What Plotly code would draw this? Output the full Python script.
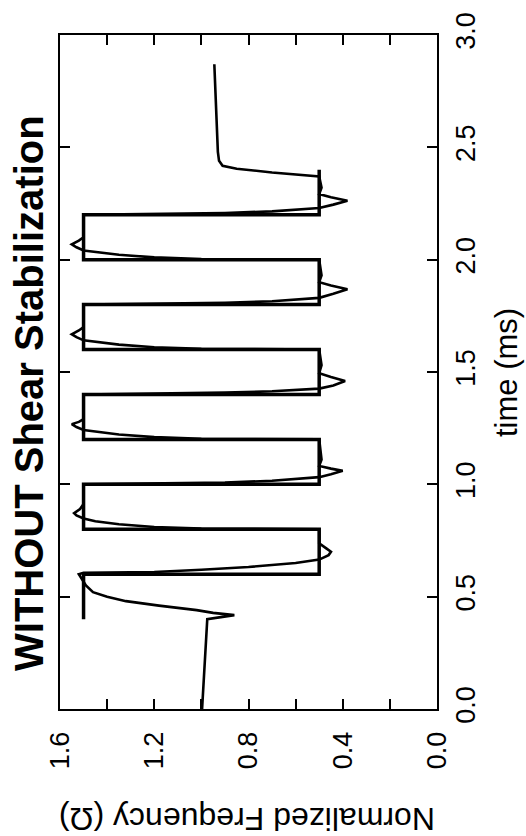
import plotly.graph_objects as go

# Square-wave frequency program: level held from each start time (ms)
drive_time = [0.40, 0.60, 0.80, 1.00, 1.20, 1.40, 1.60, 1.80, 2.00, 2.20, 2.40]
drive_freq = [1.5, 0.5, 1.5, 0.5, 1.5, 0.5, 1.5, 0.5, 1.5, 0.5, 0.5]

# Measured rotation frequency response
resp_time = [
    0.000, 0.200, 0.400, 0.410, 0.418, 0.428, 0.440, 0.460, 0.480, 0.500, 0.520, 0.550, 0.580, 0.600,
    0.606, 0.610, 0.620, 0.632, 0.650, 0.665, 0.685, 0.700, 0.715, 0.737, 0.800,
    0.803, 0.810, 0.822, 0.836, 0.848, 0.862, 0.872, 0.890, 0.912, 1.000,
    1.003, 1.008, 1.016, 1.026, 1.032, 1.045, 1.060, 1.070, 1.082, 1.110, 1.200,
    1.203, 1.210, 1.222, 1.234, 1.242, 1.255, 1.268, 1.278, 1.290, 1.400,
    1.403, 1.408, 1.414, 1.421, 1.426, 1.440, 1.460, 1.478, 1.495, 1.530, 1.600,
    1.603, 1.610, 1.622, 1.633, 1.641, 1.655, 1.668, 1.685, 1.700, 1.800,
    1.803, 1.808, 1.815, 1.824, 1.830, 1.848, 1.868, 1.885, 1.900, 1.930, 2.000,
    2.003, 2.010, 2.022, 2.033, 2.041, 2.055, 2.068, 2.085, 2.100, 2.200,
    2.203, 2.208, 2.215, 2.224, 2.230, 2.245, 2.262, 2.278, 2.292, 2.320, 2.370,
    2.388, 2.405, 2.418, 2.440, 2.480, 2.600, 2.750, 2.870,
]
resp_freq = [
    0.997, 0.986, 0.975, 0.910, 0.860, 0.950, 1.020, 1.180, 1.320, 1.400, 1.460, 1.490, 1.510, 1.520,
    1.500, 1.200, 1.000, 0.800, 0.600, 0.500, 0.460, 0.450, 0.470, 0.500, 0.500,
    1.000, 1.200, 1.350, 1.450, 1.500, 1.530, 1.540, 1.515, 1.500, 1.500,
    1.200, 0.900, 0.700, 0.550, 0.500, 0.450, 0.400, 0.450, 0.500, 0.490, 0.500,
    1.000, 1.200, 1.350, 1.450, 1.500, 1.530, 1.550, 1.520, 1.500, 1.500,
    1.200, 0.900, 0.700, 0.550, 0.500, 0.440, 0.390, 0.450, 0.500, 0.490, 0.500,
    1.000, 1.200, 1.350, 1.450, 1.500, 1.530, 1.550, 1.520, 1.500, 1.500,
    1.200, 0.900, 0.700, 0.550, 0.500, 0.440, 0.380, 0.450, 0.500, 0.490, 0.500,
    1.000, 1.200, 1.350, 1.450, 1.500, 1.530, 1.550, 1.520, 1.500, 1.500,
    1.200, 0.900, 0.700, 0.550, 0.500, 0.440, 0.380, 0.450, 0.500, 0.490, 0.500,
    0.700, 0.850, 0.910, 0.925, 0.930, 0.935, 0.940, 0.945,
]

freq_ticks = [0.0, 0.4, 0.8, 1.2, 1.6]
freq_minor = [0.2, 0.6, 1.0, 1.4]
time_ticks = [0.0, 0.5, 1.0, 1.5, 2.0, 2.5, 3.0]

title_text = "WITHOUT Shear Stabilization"
freq_title = "Normalized Frequency (\u03a9)"
time_title = "time (ms)"

FONT = "Liberation Sans, Arial, Helvetica, sans-serif"

fig = go.Figure()
fig.add_trace(go.Scatter(
    x=drive_freq, y=drive_time, mode="lines",
    line=dict(color="black", width=3.5, shape="vh"),
    hoverinfo="skip",
))
fig.add_trace(go.Scatter(
    x=resp_freq, y=resp_time, mode="lines",
    line=dict(color="black", width=2.6),
    hoverinfo="skip",
))

axis_common = dict(
    showline=True, linecolor="black", linewidth=2, mirror="ticks",
    ticks="inside", ticklen=10, tickwidth=1.5, tickcolor="black",
    showgrid=False, zeroline=False, tickangle=-90,
    tickfont=dict(family=FONT, size=27, color="black"),
)

fig.update_xaxes(
    range=[1.6, 0.0], tickvals=freq_ticks,
    ticktext=[f"{v:.1f}" for v in freq_ticks],
    ticklabelstandoff=10,
    minor=dict(tickvals=freq_minor, ticks="inside", ticklen=10,
               tickwidth=1.5, tickcolor="black"),
    **axis_common,
)
fig.update_yaxes(
    range=[0.0, 3.0], side="right", tickvals=time_ticks,
    ticktext=[f"{v:.1f}" for v in time_ticks],
    ticklabelstandoff=4,
    **axis_common,
)

fig.update_layout(
    width=526, height=836,
    margin=dict(l=60, r=89, t=33, b=127),
    plot_bgcolor="white", paper_bgcolor="white",
    showlegend=False,
    annotations=[
        dict(text=f"<b>{title_text}</b>", xref="paper", yref="paper",
             x=-0.082, y=0.469, textangle=-90, showarrow=False,
             xanchor="center", yanchor="middle",
             font=dict(family=FONT, size=40, color="black")),
        dict(text=time_title, xref="paper", yref="paper",
             x=1.183, y=0.5, textangle=-90, showarrow=False,
             xanchor="center", yanchor="middle",
             font=dict(family=FONT, size=31, color="black")),
        dict(text=freq_title, xref="paper", yref="paper",
             x=0.496, y=-0.163, textangle=180, showarrow=False,
             xanchor="center", yanchor="middle",
             font=dict(family=FONT, size=32, color="black")),
    ],
)

fig.write_html("out.html")
